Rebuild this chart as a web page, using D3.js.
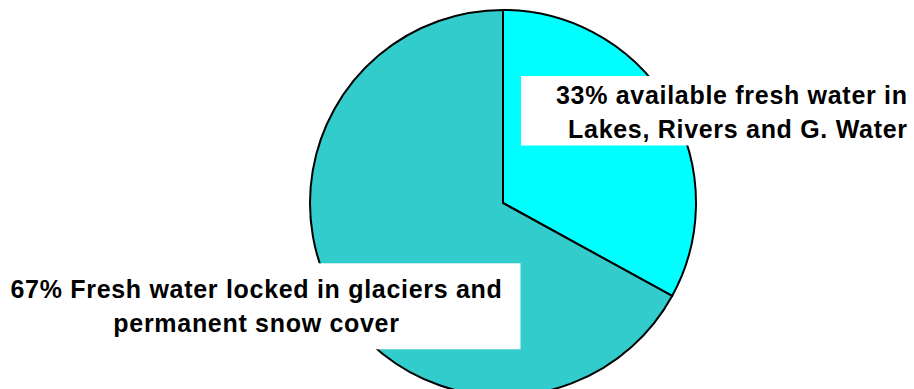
<!DOCTYPE html>
<html>
<head>
<meta charset="utf-8">
<script src="https://cdn.jsdelivr.net/npm/d3@7"></script>
<style>
  html, body { margin: 0; padding: 0; background: #ffffff; }
  svg { display: block; }
  .lbl { font-family: "Liberation Sans", Arial, sans-serif; font-weight: bold; font-size: 25px; letter-spacing: 0.7px; fill: #000; }
</style>
</head>
<body>
<svg id="chart" width="914" height="389"></svg>
<script>
// ---- data ----
const categories = ["Available fresh water (lakes, rivers, ground water)", "Fresh water locked in glaciers and snow"];
const values = [33, 67];
const colors = ["#00FFFF", "#33CCCC"];
const labelLines = [
  ["33% available fresh water in", "Lakes, Rivers and G. Water"],
  ["67% Fresh water locked in glaciers and", "permanent snow cover"]
];

// ---- layout ----
const W = 914, H = 389;
const cx = 503, cy = 203, R = 193;

const svg = d3.select("#chart");

const pie = d3.pie().sort(null).value(d => d.value).startAngle(0).endAngle(2 * Math.PI);
const arcs = pie(categories.map((c, i) => ({ name: c, value: values[i], color: colors[i] })));
const arc = d3.arc().innerRadius(0).outerRadius(R);

const g = svg.append("g").attr("transform", `translate(${cx},${cy})`);
g.selectAll("path")
  .data(arcs)
  .join("path")
  .attr("d", arc)
  .attr("fill", d => d.data.color)
  .attr("stroke", "#000")
  .attr("stroke-width", 2)
  .attr("stroke-linejoin", "round");

// label boxes (style/position config)
const boxes = [
  { x: 521, y: 76, w: 400, h: 69.5, anchor: "end", tx: 907.7, ty: [104.3, 137.8] },
  { x: -5, y: 263.3, w: 525.5, h: 86, anchor: "middle", tx: 256.5, ty: [297.5, 331.6] }
];

boxes.forEach((b, i) => {
  svg.append("rect")
    .attr("x", b.x).attr("y", b.y)
    .attr("width", b.w).attr("height", b.h)
    .attr("fill", "#ffffff");
  const t = svg.append("text").attr("class", "lbl").attr("text-anchor", b.anchor);
  labelLines[i].forEach((line, j) => {
    t.append("tspan").attr("x", b.tx).attr("y", b.ty[j]).text(line);
  });
});
</script>
</body>
</html>
